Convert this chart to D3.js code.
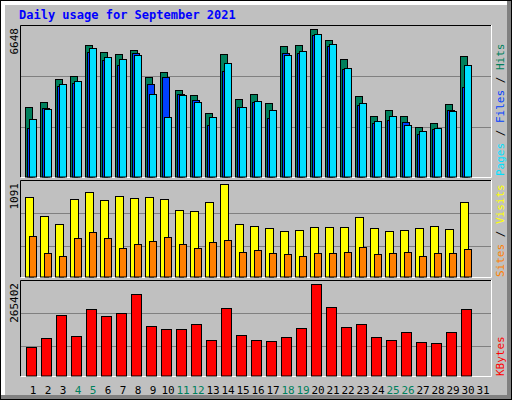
<!DOCTYPE html>
<html>
<head>
<meta charset="utf-8">
<script src="https://cdn.jsdelivr.net/npm/d3@7"></script>
<style>
  body { margin: 0; background: #fff; }
  svg text { font-family: "DejaVu Sans Mono", monospace; }
</style>
</head>
<body>
<div id="chart"></div>
<script>
const days = d3.range(1, 32);
const weekend = [4, 5, 11, 12, 18, 19, 25, 26];

const hits  = [3128, 3369, 4392, 4527, 5941, 5610, 5535, 5715, 4482, 4707, 3895, 3670, 2858, 5535, 3489, 3715, 3309, 5896, 5941, 6648, 6166, 5294, 3625, 2722, 3008, 2722, 2226, 2406, 3264, 5429];
const files = [2211, 3098, 4106, 4226, 5625, 5264, 5038, 5580, 4166, 4482, 3715, 3459, 2316, 4768, 3143, 3369, 2632, 5580, 5580, 6377, 5896, 4843, 3234, 2421, 2557, 2452, 1925, 2151, 3008, 4046];
const pages = [2602, 3053, 4181, 4316, 5790, 5399, 5309, 5490, 3730, 2677, 3670, 3369, 2677, 5129, 3143, 3414, 3008, 5490, 5670, 6437, 5986, 4888, 3324, 2512, 2722, 2316, 2060, 2196, 2963, 5038];
const visits = [937, 713, 618, 914, 997, 902, 949, 926, 937, 914, 784, 772, 878, 1091, 618, 595, 571, 536, 547, 583, 583, 583, 701, 571, 536, 547, 571, 595, 559, 878];
const sites  = [477, 276, 252, 453, 524, 453, 335, 382, 418, 465, 382, 335, 406, 429, 299, 311, 276, 264, 252, 276, 276, 288, 347, 264, 276, 288, 252, 276, 276, 323];
const kbytes = [82330, 108480, 175320, 114300, 192750, 172410, 181130, 236340, 143350, 134640, 134640, 149160, 102670, 195660, 117200, 102670, 99770, 111390, 137540, 265402, 198560, 140450, 149160, 111390, 102670, 125920, 96860, 93950, 125920, 192750];

const W = 512, H = 400;
const svg = d3.select('#chart').append('svg').attr('width', W).attr('height', H);

// outer frame
svg.append('rect').attr('x', 0).attr('y', 0).attr('width', W).attr('height', H).attr('fill', '#000');
svg.append('rect').attr('x', 1).attr('y', 1).attr('width', W - 2).attr('height', H - 2).attr('fill', '#808080');
svg.append('rect').attr('x', 1).attr('y', 1).attr('width', W - 6).attr('height', H - 6).attr('fill', '#fff');
svg.append('rect').attr('x', 5).attr('y', 5).attr('width', W - 10).attr('height', H - 10).attr('fill', '#c0c0c0');

svg.append('text').attr('x', 19).attr('y', 19)
    .attr('fill', '#0000ff').attr('font-weight', 'bold').attr('font-size', 12)
    .text('Daily usage for September 2021');

const x = d3.scaleBand().domain(days).range([25, 490]);

function panel(top, bottom, maxLabel) {
    svg.append('rect').attr('x', 20).attr('y', top).attr('width', 471).attr('height', bottom - top)
        .attr('fill', '#c0c0c0');
    svg.append('path').attr('d', `M20.5,${bottom}V${top + 0.5}H491`).attr('stroke', '#000').attr('fill', 'none');
    svg.append('path').attr('d', `M21,${bottom + 0.5}H491.5V${top}`).attr('stroke', '#fff').attr('fill', 'none');
    svg.append('text').attr('transform', `translate(18,${top + 3}) rotate(-90)`)
        .attr('text-anchor', 'end').attr('font-size', 11).attr('font-family', 'DejaVu Sans')
        .text(maxLabel);
}

function grid(y, top) {
    [1, 2].forEach(k => {
        const v = y.domain()[1] * k / 3;
        svg.append('line').attr('x1', 21).attr('x2', 491)
            .attr('y1', Math.round(y(v)) + 0.5).attr('y2', Math.round(y(v)) + 0.5)
            .attr('stroke', '#808080');
    });
}

function bars(data, y, cls, off, w, color) {
    svg.selectAll('rect.' + cls).data(data).join('rect').attr('class', cls)
        .attr('x', (d, i) => x(i + 1) + off + 0.5)
        .attr('y', d => Math.round(y(d)) + 0.5)
        .attr('width', w)
        .attr('height', d => y(0) - Math.round(y(d)) - 0.5)
        .attr('fill', color).attr('stroke', '#000');
}

// hits / files / pages
panel(25, 177, '6648');
const y1 = d3.scaleLinear().domain([0, 6648]).range([177, 29]);
grid(d3.scaleLinear().domain([0, 6648]).range([178, 25]));
bars(hits, y1, 'hits', 0, 7, '#00805c');
bars(files, y1, 'files', 2, 7, '#0040ff');
bars(pages, y1, 'pages', 4, 7, '#00e0ff');

// visits / sites
panel(180, 277, '1091');
const y2 = d3.scaleLinear().domain([0, 1091]).range([277, 184]);
svg.append('line').attr('x1', 21).attr('x2', 491).attr('y1', 213.5).attr('y2', 213.5).attr('stroke', '#808080');
svg.append('line').attr('x1', 21).attr('x2', 491).attr('y1', 246.5).attr('y2', 246.5).attr('stroke', '#808080');
bars(visits, y2, 'visits', 0, 8, '#ffff00');
bars(sites, y2, 'sites', 4, 7, '#ff8000');

// kbytes
panel(280, 376, '265402');
const y3 = d3.scaleLinear().domain([0, 265402]).range([376, 284]);
svg.append('line').attr('x1', 21).attr('x2', 491).attr('y1', 313.5).attr('y2', 313.5).attr('stroke', '#808080');
svg.append('line').attr('x1', 21).attr('x2', 491).attr('y1', 346.5).attr('y2', 346.5).attr('stroke', '#808080');
bars(kbytes, y3, 'kb', 1, 10, '#ff0000');

// day labels
svg.selectAll('text.day').data(days).join('text').attr('class', 'day')
    .attr('x', d => x(d) + 8).attr('y', 394)
    .attr('text-anchor', 'middle').attr('font-size', 11).attr('font-family', 'DejaVu Sans')
    .attr('fill', d => weekend.includes(d) ? '#00805c' : '#000')
    .text(d => d);

// right side legends
function legend(bottomY, parts) {
    const t = svg.append('text').attr('transform', `translate(504,${bottomY}) rotate(-90)`)
        .attr('font-size', 11);
    parts.forEach(p => t.append('tspan').attr('fill', p[1]).text(p[0]));
}
legend(176, [['Pages', '#00e0ff'], [' / ', '#000'], ['Files', '#0040ff'], [' / ', '#000'], ['Hits', '#00805c']]);
legend(277, [['Sites', '#ff8000'], [' / ', '#000'], ['Visits', '#ffff00']]);
legend(376, [['KBytes', '#ff0000']]);
</script>
</body>
</html>
